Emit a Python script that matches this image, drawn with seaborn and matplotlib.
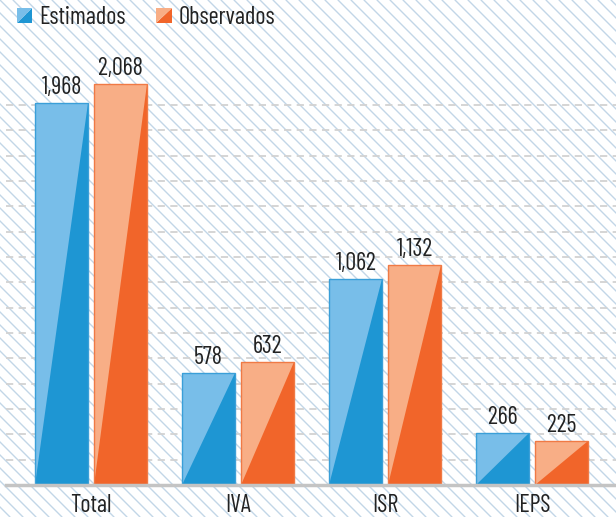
import numpy as np
import pandas as pd
import seaborn as sns
import matplotlib.pyplot as plt
from matplotlib.patches import Polygon, Patch, Rectangle
from matplotlib.lines import Line2D
from matplotlib.legend_handler import HandlerBase

categorias = ['Total', 'IVA', 'ISR', 'IEPS']
series = ['Estimados', 'Observados']
estimados = [1968, 578, 1062, 266]
observados = [2068, 632, 1132, 225]

oscuros = ['#1e96d3', '#f1652a']
claros = ['#78bee9', '#f8ae86']
bordes = ['#3a9fd8', '#f07a45']

df = pd.DataFrame({
    'categoria': categorias * 2,
    'valor': estimados + observados,
    'serie': [series[0]] * len(categorias) + [series[1]] * len(categorias),
})

sns.set_theme(style='white')
plt.rcParams['font.family'] = ['Barlow Condensed', 'DejaVu Sans']
tam = 17.5

W, H = 616, 517
fig = plt.figure(figsize=(W / 100, H / 100), dpi=100)
fig.patch.set_facecolor('white')

# rayado diagonal de fondo
paso = 13
for k in range(-45, 50):
    x0 = k * paso
    fig.add_artist(Line2D([x0 / W, (x0 + H) / W], [1, 0], transform=fig.transFigure,
                          color='#c2d6e7', lw=1.0, zorder=-5))

ax = fig.add_axes([0.01, 32 / H, 0.99, 446 / H])
ax.patch.set_alpha(0)

sns.barplot(data=df, x='categoria', y='valor', hue='serie', palette=oscuros,
            saturation=1, width=0.8, gap=0.1, legend=False, ax=ax, zorder=3)

for i, cont in enumerate(ax.containers):
    for bar in cont:
        x, w, h = bar.get_x(), bar.get_width(), bar.get_height()
        bar.set_edgecolor('none')
        ax.add_patch(Polygon([(x, 0), (x, h), (x + w, h)], closed=True,
                             facecolor=claros[i], edgecolor='none', zorder=4))
        ax.add_patch(Rectangle((x, 0), w, h, fill=False, edgecolor=bordes[i],
                               lw=1.0, zorder=5))
    ax.bar_label(cont, labels=[f'{v:,.0f}' for v in cont.datavalues], padding=3,
                 fontsize=tam, color='#222222')

ax.set_xlim(-0.578, 3.571)
ax.set_ylim(0, 2300)
ax.set_yticks(np.linspace(0, 1960, 16))
ax.yaxis.grid(True, color='#d2d2d2', linestyle=(0, (4, 3)), lw=1.3)
ax.set_axisbelow(True)
ax.tick_params(axis='y', left=False, labelleft=False)
ax.tick_params(axis='x', length=0, pad=6.5, labelsize=tam, labelcolor='#222222')
ax.set_xlabel('')
ax.set_ylabel('')
for s in ['left', 'right', 'top']:
    ax.spines[s].set_visible(False)
ax.spines['bottom'].set_color('#c4c4c4')
ax.spines['bottom'].set_linewidth(2.5)
ax.spines['bottom'].set_zorder(6)


class HandlerDosTonos(HandlerBase):
    def create_artists(self, legend, orig_handle, xdescent, ydescent, width, height,
                       fontsize, trans):
        lado = min(width, height)
        x0, y0 = -xdescent + (width - lado) / 2, -ydescent + (height - lado) / 2
        oscuro, claro = orig_handle.oscuro, orig_handle.claro
        t1 = Polygon([(x0, y0), (x0 + lado, y0), (x0 + lado, y0 + lado)],
                     facecolor=oscuro, edgecolor='none', transform=trans)
        t2 = Polygon([(x0, y0), (x0, y0 + lado), (x0 + lado, y0 + lado)],
                     facecolor=claro, edgecolor='none', transform=trans)
        return [t1, t2]


handles = []
for i, s in enumerate(series):
    p = Patch(label=s)
    p.oscuro, p.claro = oscuros[i], claros[i]
    handles.append(p)

fig.legend(handles=handles, loc='upper left', bbox_to_anchor=(12 / W, 1 - 1 / H),
           ncol=2, frameon=False, fontsize=tam, handlelength=0.63, handleheight=0.63,
           handletextpad=0.3, columnspacing=1.25, borderaxespad=0, borderpad=0.2,
           labelcolor='#222222', handler_map={Patch: HandlerDosTonos()})

fig.savefig('out.png', dpi=100)
